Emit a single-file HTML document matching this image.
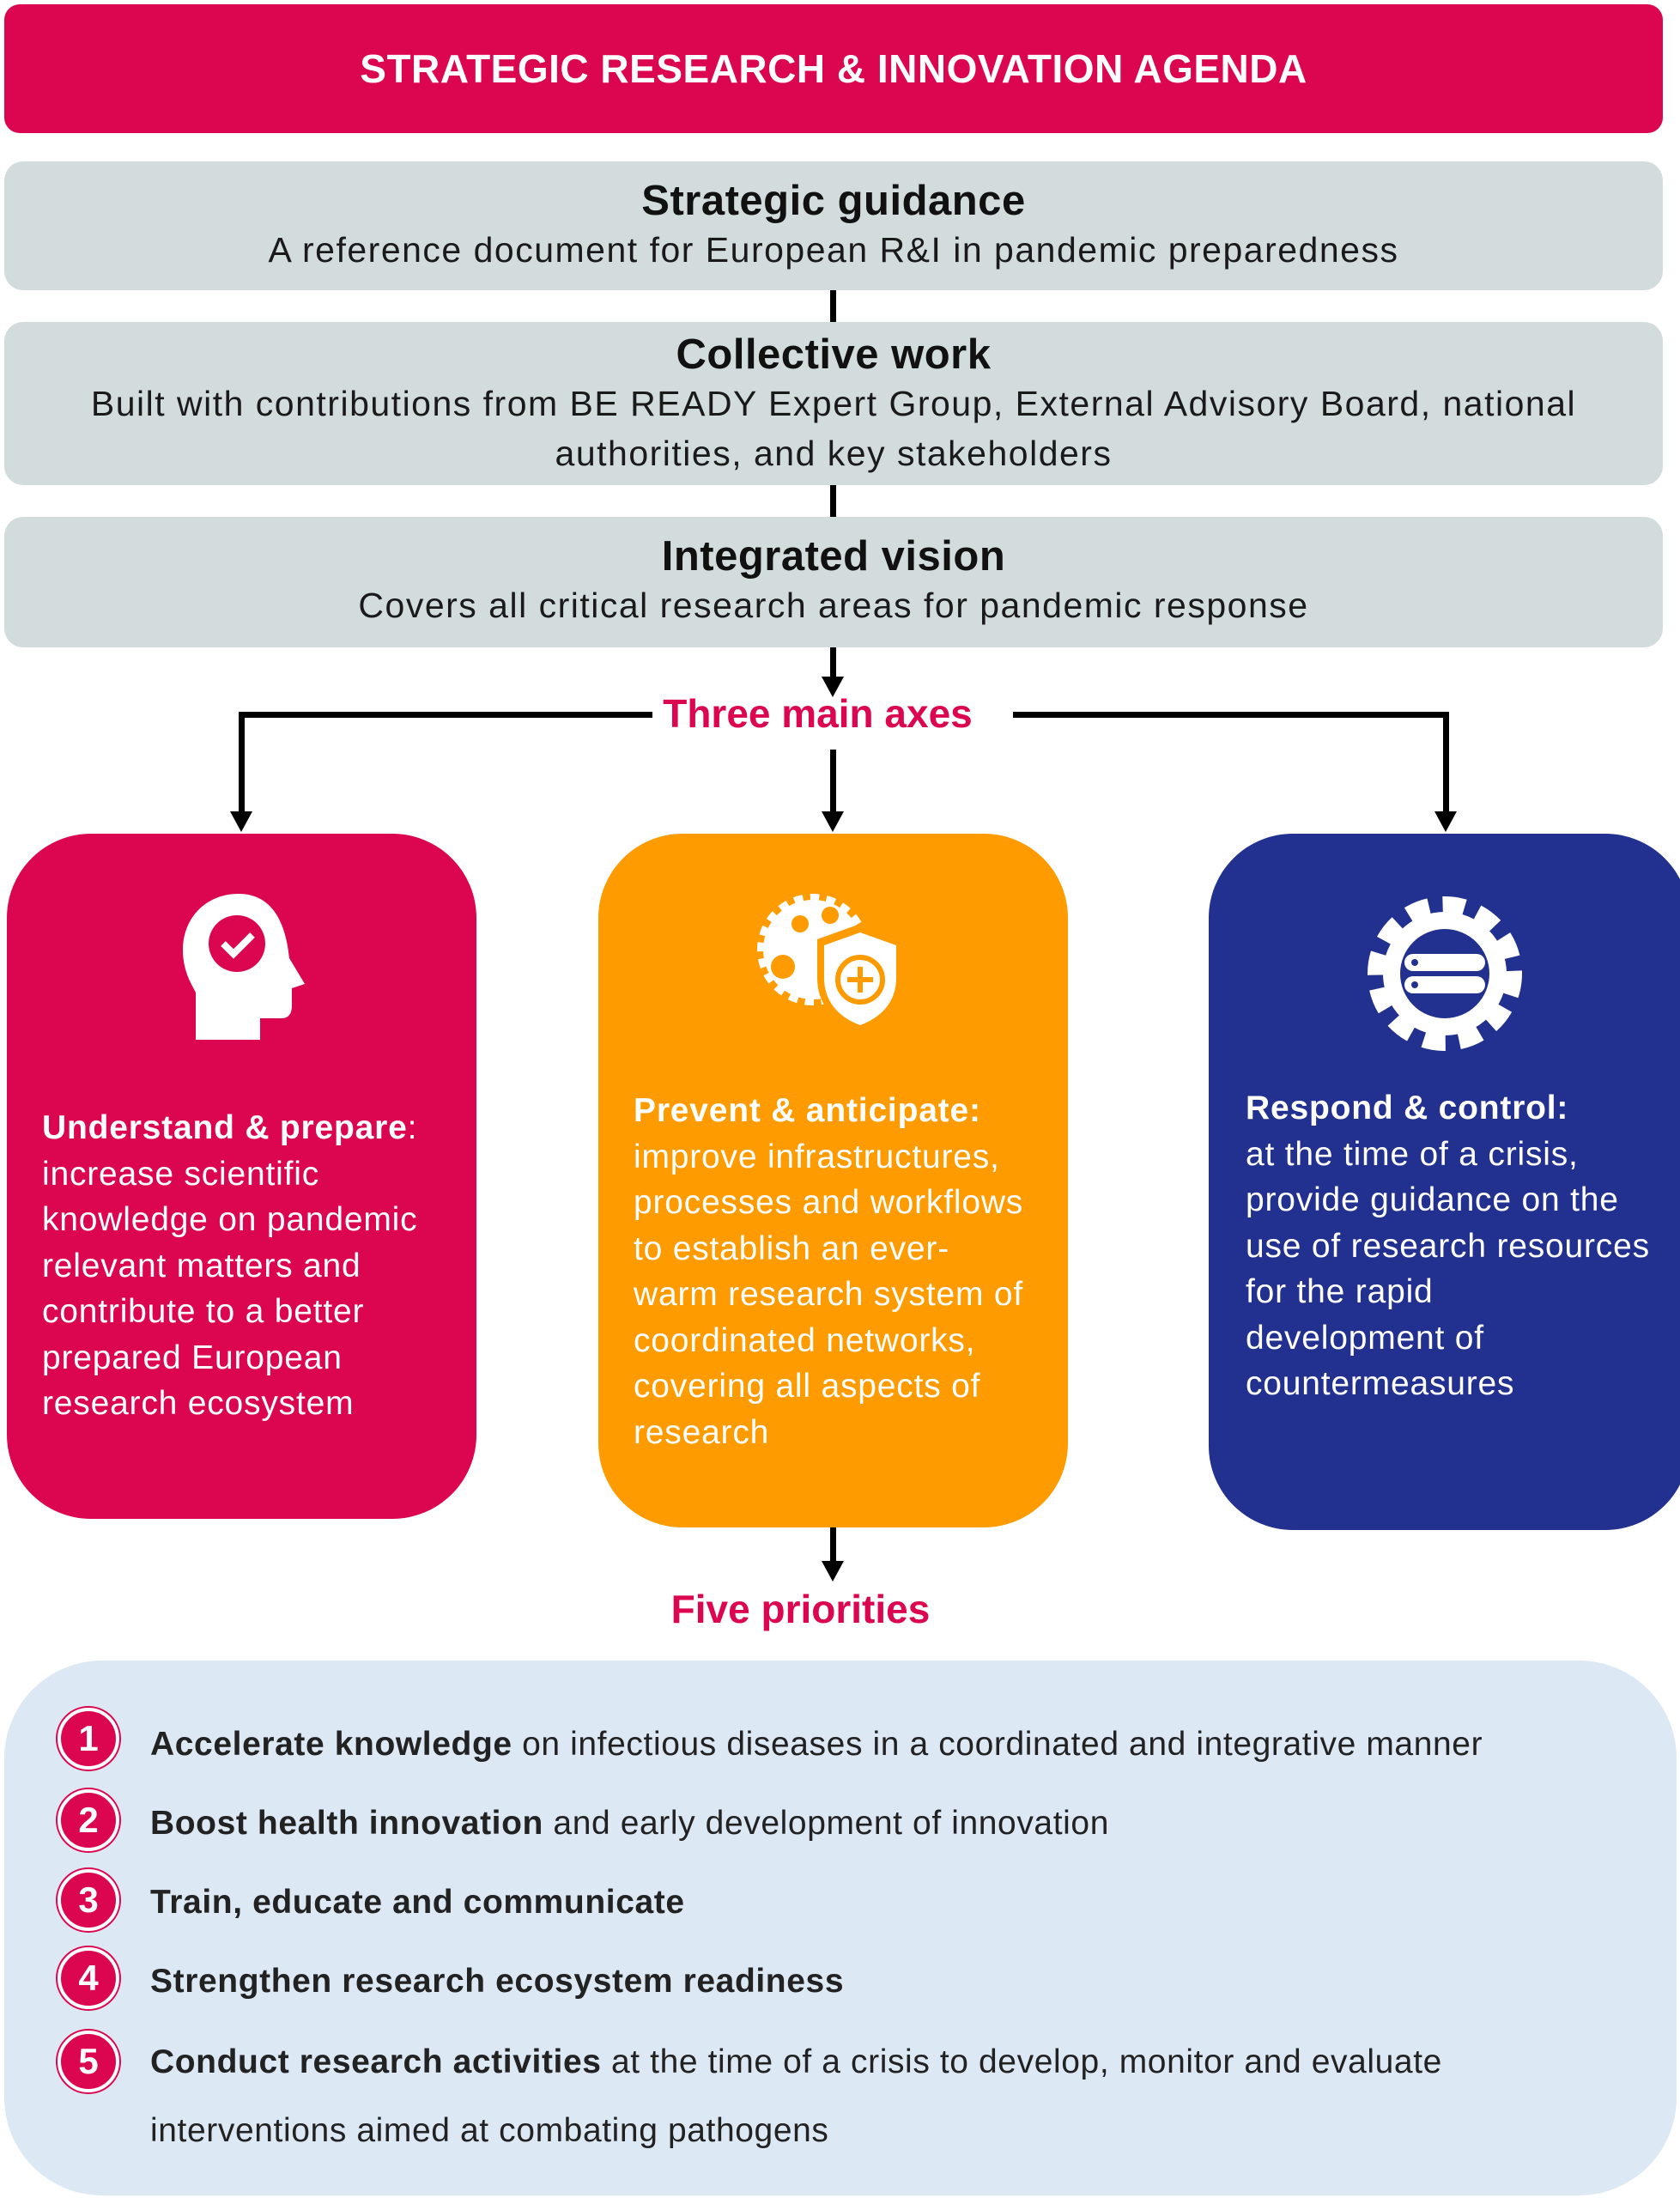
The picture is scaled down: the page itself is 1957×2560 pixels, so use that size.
<!DOCTYPE html>
<html><head><meta charset="utf-8"><style>
*{margin:0;padding:0;box-sizing:border-box}
body{width:1957px;height:2560px;background:#fff;position:relative;font-family:"Liberation Sans",sans-serif;color:#1a1a1a;overflow:hidden}
.a{position:absolute}
.gbox{position:absolute;left:5px;width:1932px;background:#d3dcdd;border-radius:22px;text-align:center}
.gbox b{display:block;font-size:49px;color:#111;letter-spacing:0.5px}
.gbox span{display:block;font-size:41px;line-height:58px;letter-spacing:1.5px}
.card{position:absolute;border-radius:98px;color:#fff;font-size:39px;line-height:53.5px;white-space:nowrap;letter-spacing:0.8px}
.vl{position:absolute;background:#000;width:7px}
.hl{position:absolute;background:#000;height:7px}
.arr{position:absolute;width:0;height:0;border-left:13px solid transparent;border-right:13px solid transparent;border-top:24px solid #000}
.num{position:absolute;left:67px;width:72px;height:72px;border-radius:50%;background:#dc0650;border:4px solid #fff;box-shadow:0 0 0 2px #dc0650;color:#fff;font-weight:bold;font-size:42px;text-align:center;line-height:64px}
.it{position:absolute;left:175px;font-size:39px;color:#222;letter-spacing:0.6px}
</style></head><body>
<div class="a" style="left:5px;top:5px;width:1932px;height:150px;background:#dc0650;border-radius:18px;color:#fff;font-weight:bold;font-size:46px;text-align:center;line-height:150px;letter-spacing:0.5px">STRATEGIC RESEARCH &amp; INNOVATION AGENDA</div>

<div class="gbox" style="top:188px;height:150px;padding-top:18px"><b>Strategic guidance</b><span>A reference document for European R&amp;I in pandemic preparedness</span></div>
<div class="vl" style="left:967px;top:338px;height:37px"></div>
<div class="gbox" style="top:375px;height:190px;padding-top:10px"><b>Collective work</b><span>Built with contributions from BE READY Expert Group, External Advisory Board, national<br>authorities, and key stakeholders</span></div>
<div class="vl" style="left:967px;top:565px;height:37px"></div>
<div class="gbox" style="top:602px;height:152px;padding-top:18px"><b>Integrated vision</b><span>Covers all critical research areas for pandemic response</span></div>

<div class="vl" style="left:967px;top:754px;height:40px"></div><div class="arr" style="left:957px;top:788px"></div>
<div class="a" style="left:700px;top:804px;width:505px;text-align:center;font-size:46px;font-weight:bold;color:#dc0650">Three main axes</div>
<div class="hl" style="left:278px;top:829px;width:482px"></div>
<div class="vl" style="left:278px;top:829px;height:118px"></div><div class="arr" style="left:268px;top:945px"></div>
<div class="hl" style="left:1180px;top:829px;width:508px"></div>
<div class="vl" style="left:1681px;top:829px;height:118px"></div><div class="arr" style="left:1671px;top:945px"></div>
<div class="vl" style="left:967px;top:873px;height:74px"></div><div class="arr" style="left:957px;top:945px"></div>

<div class="card" style="left:8px;top:971px;width:547px;height:798px;background:#dc0650">
<svg class="a" style="left:200px;top:65px" width="150" height="175" viewBox="0 0 150 175"><path d="M70 5C30 5 5 35 5 70c0 25 10 40 15 50v55h75v-25h25c10 0 12-8 12-15v-20l15-5-18-30C125 40 110 5 70 5z" fill="#fff"/><circle cx="68" cy="63" r="33" fill="#dc0650"/><path d="M52 63l12 12 22-22" stroke="#fff" stroke-width="8" fill="none"/></svg>
<div class="a" style="left:41px;top:316px"><b>Understand &amp; prepare</b>:<br>increase scientific<br>knowledge on pandemic<br>relevant matters and<br>contribute to a better<br>prepared European<br>research ecosystem</div></div>

<div class="card" style="left:697px;top:971px;width:547px;height:808px;background:#fd9b00">
<svg class="a" style="left:180px;top:55px" width="180" height="180" viewBox="0 0 180 180"><circle cx="70" cy="80" r="58" fill="#fff" stroke="#fff" stroke-width="14" stroke-dasharray="10 8"/><circle cx="55" cy="50" r="10" fill="#fd9b00"/><circle cx="90" cy="40" r="10" fill="#fd9b00"/><circle cx="35" cy="100" r="14" fill="#fd9b00"/><path d="M125 50l50 18v45c0 35-25 55-50 65-25-10-50-30-50-65V68z" fill="#fd9b00"/><path d="M125 60l42 15v38c0 30-20 47-42 55-22-8-42-25-42-55V75z" fill="#fff"/><circle cx="125" cy="115" r="26" fill="none" stroke="#fd9b00" stroke-width="6"/><path d="M125 100v30M110 115h30" stroke="#fd9b00" stroke-width="6"/></svg>
<div class="a" style="left:41px;top:296px"><b>Prevent &amp; anticipate:</b><br>improve infrastructures,<br>processes and workflows<br>to establish an ever-<br>warm research system of<br>coordinated networks,<br>covering all aspects of<br>research</div></div>

<div class="card" style="left:1408px;top:971px;width:560px;height:811px;background:#22318f">
<svg class="a" style="left:180px;top:68px" width="190" height="190" viewBox="0 0 190 190"><circle cx="95" cy="95" r="75" fill="none" stroke="#fff" stroke-width="30" stroke-dasharray="24 15"/><circle cx="95" cy="95" r="72" fill="#fff"/><circle cx="95" cy="95" r="52" fill="#22318f"/><rect x="48" y="72" width="94" height="20" rx="10" fill="#fff"/><rect x="48" y="98" width="94" height="20" rx="10" fill="#fff"/><circle cx="60" cy="82" r="4" fill="#22318f"/><circle cx="60" cy="108" r="4" fill="#22318f"/></svg>
<div class="a" style="left:43px;top:293px"><b>Respond &amp; control:</b><br>at the time of a crisis,<br>provide guidance on the<br>use of research resources<br>for the rapid<br>development of<br>countermeasures</div></div>

<div class="vl" style="left:967px;top:1779px;height:42px"></div><div class="arr" style="left:957px;top:1818px"></div>
<div class="a" style="left:680px;top:1847px;width:505px;text-align:center;font-size:46px;font-weight:bold;color:#dc0650">Five priorities</div>

<div class="a" style="left:5px;top:1934px;width:1948px;height:623px;background:#dce8f4;border-radius:114px"></div>
<div class="num" style="top:1989px">1</div><div class="it" style="top:2010px"><b>Accelerate knowledge</b> on infectious diseases in a coordinated and integrative manner</div>
<div class="num" style="top:2084px">2</div><div class="it" style="top:2102px"><b>Boost health innovation</b> and early development of innovation</div>
<div class="num" style="top:2177px">3</div><div class="it" style="top:2194px"><b>Train, educate and communicate</b></div>
<div class="num" style="top:2268px">4</div><div class="it" style="top:2286px"><b>Strengthen research ecosystem readiness</b></div>
<div class="num" style="top:2365px">5</div><div class="it" style="top:2362px;line-height:80px"><b>Conduct research activities</b> at the time of a crisis to develop, monitor and evaluate<br>interventions aimed at combating pathogens</div>
</body></html>
